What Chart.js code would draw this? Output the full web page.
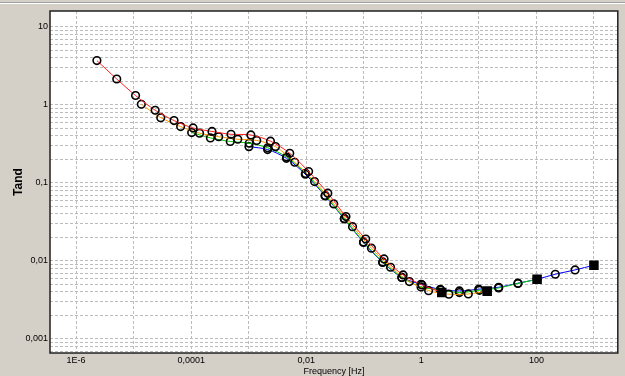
<!DOCTYPE html>
<html><head><meta charset="utf-8">
<script src="https://cdn.jsdelivr.net/npm/chart.js@4.4.0/dist/chart.umd.min.js"></script>
<style>html,body{margin:0;padding:0;background:#d4d0c8;}#wrap{width:625px;height:376px;}</style>
</head><body><div id="wrap"><canvas id="c" width="625" height="376"></canvas></div>
<script>
// ---- data (frequency in Hz, tan delta) ----
const redFreq = [2.30e-6, 5.09e-6, 1.08e-5, 2.37e-5, 5.04e-5, 1.08e-4, 2.30e-4, 4.93e-4, 1.09e-3, 2.39e-3, 5.17e-3, 1.10e-2, 2.37e-2, 0.049, 0.108, 0.225, 0.483, 1.03, 2.27];
const redTand = [3.70, 2.15, 1.32, 0.855, 0.63, 0.507, 0.457, 0.42, 0.412, 0.343, 0.240, 0.140, 0.0738, 0.037, 0.0191, 0.0106, 0.00662, 0.00492, 0.00395];

const orangeFreq = [1.36e-5, 2.96e-5, 6.56e-5, 1.40e-4, 3.01e-4, 6.46e-4, 1.38e-3, 2.92e-3, 6.31e-3, 0.01396, 0.0301, 0.0638, 0.136, 0.292, 0.621, 1.34, 3.01, 6.56, 13.96];
const orangeTand = [1.02, 0.687, 0.527, 0.434, 0.391, 0.363, 0.351, 0.292, 0.184, 0.104, 0.0538, 0.0275, 0.01455, 0.0083, 0.00543, 0.00416, 0.00375, 0.00377, 0.0041];

const greenFreq = [1.02e-4, 2.16e-4, 4.78e-4, 1.02e-3, 2.14e-3, 4.56e-3, 9.77e-3, 0.0213, 0.0459, 0.0989, 0.213, 0.459, 0.989, 2.19, 4.59, 10.2, 22.1, 47.8, 102.8];
const greenTand = [0.442, 0.378, 0.340, 0.323, 0.282, 0.215, 0.1325, 0.0692, 0.0351, 0.01754, 0.0097, 0.00614, 0.00464, 0.00425, 0.00393, 0.0042, 0.0045, 0.00515, 0.00582];

const blueFreq = [1.01e-3, 2.13e-3, 4.52e-3, 9.62e-3, 0.0213, 0.0459, 0.0989, 0.213, 0.459, 0.989, 2.13, 4.59, 9.95, 22.1, 47.8, 102.8, 213, 470, 1000];
const blueTand = [0.292, 0.268, 0.207, 0.1294, 0.0681, 0.0345, 0.01726, 0.00957, 0.00614, 0.00502, 0.00431, 0.00412, 0.00434, 0.0046, 0.00518, 0.00582, 0.00675, 0.00767, 0.00881];

const xGridDecades = [1e-6, 1e-5, 1e-4, 1e-3, 1e-2, 1e-1, 1, 10, 100, 1000];
const xTickValues = [1e-6, 1e-4, 1e-2, 1, 100];
const xTickLabels = ["1E-6", "0,0001", "0,01", "1", "100"];
const yTickValues = [0.001, 0.01, 0.1, 1, 10];
const yTickLabels = ["0,001", "0,01", "0,1", "1", "10"];

const X_MIN = 3.52e-7, X_MAX = 2.6e3, Y_MIN = 6.6e-4, Y_MAX = 16.0;

function pts(fs, ts) { return fs.map((f, i) => ({x: f, y: ts[i]})); }
function findLabel(v, vals, labs) {
  for (let i = 0; i < vals.length; i++) if (Math.abs(v - vals[i]) / vals[i] < 1e-6) return labs[i];
  return '';
}
const yGrid = [];
for (let n = -4; n <= 1; n++) for (let k = 1; k <= 9; k++) {
  const v = parseFloat((k * Math.pow(10, n)).toPrecision(6));
  if (v >= Y_MIN && v <= Y_MAX) yGrid.push(v);
}

function mkDs(fs, ts, color) {
  const last = fs.length - 1;
  return {
    data: pts(fs, ts),
    showLine: true,
    borderColor: color,
    borderWidth: 1,
    tension: 0.3,
    pointStyle: c => c.dataIndex === last ? 'rect' : 'circle',
    pointRadius: c => c.dataIndex === last ? 5.6 : 3.8,
    pointBackgroundColor: c => c.dataIndex === last ? '#000' : 'rgba(0,0,0,0)',
    pointBorderColor: '#000',
    pointBorderWidth: 1.6
  };
}

const bgPlugin = {
  id: 'bg',
  beforeDraw(chart) {
    const ctx = chart.ctx, a = chart.chartArea;
    ctx.save();
    ctx.fillStyle = '#d4d0c8';
    ctx.fillRect(0, 0, chart.width, chart.height);
    ctx.fillStyle = '#a0a0a0'; ctx.fillRect(0, 2, chart.width, 1);
    ctx.fillStyle = '#ffffff'; ctx.fillRect(0, 3, chart.width, 1);
    ctx.fillStyle = '#ffffff';
    ctx.fillRect(a.left, a.top, a.right - a.left, a.bottom - a.top);
    ctx.restore();
  },
  afterDraw(chart) {
    const ctx = chart.ctx, a = chart.chartArea;
    ctx.save();
    ctx.strokeStyle = '#202020';
    ctx.lineWidth = 1.5;
    ctx.strokeRect(a.left, a.top, a.right - a.left, a.bottom - a.top);
    ctx.restore();
  }
};

const gridOpts = { color: '#bcbcbc', lineWidth: 1, drawTicks: false };
const font9 = { family: '"Liberation Sans", Arial, sans-serif', size: 9 };

new Chart(document.getElementById('c'), {
  type: 'scatter',
  data: {
    datasets: [
      mkDs(redFreq, redTand, '#ff2020'),
      mkDs(orangeFreq, orangeTand, '#ff9a00'),
      mkDs(greenFreq, greenTand, '#00d000'),
      mkDs(blueFreq, blueTand, '#0000ff')
    ]
  },
  options: {
    responsive: false,
    devicePixelRatio: 1,
    animation: false,
    layout: { padding: { left: 0, top: 11, right: 2, bottom: 0 } },
    plugins: { legend: { display: false }, tooltip: { enabled: false } },
    scales: {
      x: {
        type: 'logarithmic', min: X_MIN, max: X_MAX,
        grid: gridOpts,
        border: { display: false, dash: [3, 2] },
        afterBuildTicks: s => { s.ticks = xGridDecades.map(v => ({value: v})); },
        afterFit: s => { s.height = 23; },
        ticks: {
          autoSkip: false, maxRotation: 0, padding: 2, color: '#000', font: font9,
          callback: v => findLabel(v, xTickValues, xTickLabels)
        },
        title: { display: true, text: 'Frequency [Hz]', color: '#000',
          font: { family: '"Liberation Sans", Arial, sans-serif', size: 9, lineHeight: 1 },
          padding: { top: 0, bottom: 0 } }
      },
      y: {
        type: 'logarithmic', min: Y_MIN, max: Y_MAX,
        grid: gridOpts,
        border: { display: false, dash: [3, 2] },
        afterBuildTicks: s => { s.ticks = yGrid.map(v => ({value: v})); },
        afterFit: s => { s.width = 50; },
        ticks: {
          autoSkip: false, padding: 2, color: '#000', font: font9,
          callback: v => findLabel(v, yTickValues, yTickLabels)
        },
        title: { display: true, text: 'Tand', color: '#000',
          font: { family: '"Liberation Sans", Arial, sans-serif', size: 12, weight: 'bold', lineHeight: 1.2 },
          padding: { top: 11, bottom: 0 } }
      }
    }
  },
  plugins: [bgPlugin]
});
</script></body></html>
